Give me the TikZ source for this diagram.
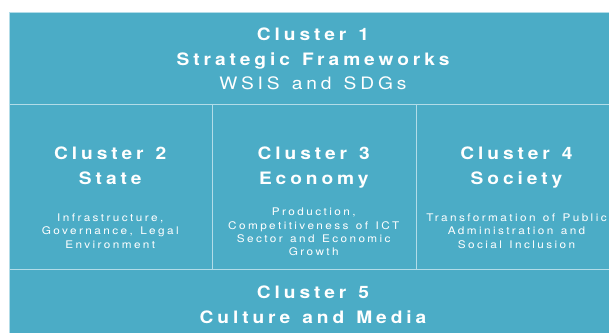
\documentclass[tikz,border=0pt]{standalone}
\usepackage{fontspec}
\setmainfont{TeX Gyre Heros}[LetterSpace=23, FakeStretch=1.12, WordSpace=1.3]
\definecolor{cellblue}{RGB}{75,172,198}
\definecolor{cellline}{RGB}{178,220,232}
\begin{document}
\begin{tikzpicture}[x=1pt,y=-1pt,
  cell/.style={draw=cellline, line width=1.2pt, fill=cellblue, inner sep=0pt, anchor=north west},
  head/.style={text=white, font=\fontsize{17.1}{20}\selectfont\bfseries, anchor=base, inner sep=0pt},
  subhead/.style={text=white, font=\fontsize{17.1}{20}\selectfont, anchor=base, inner sep=0pt},
  small/.style={text=white, font=\fontsize{10.5}{13}\selectfont, anchor=base, inner sep=0pt}]
\useasboundingbox (0,0) rectangle (609,332);
\clip (0,0) rectangle (609,332);
\fill[white] (0,0) rectangle (609,332);
% cells
\node[cell, minimum width=608pt, minimum height=91.5pt] (c1) at (9,12) {};
\node[cell, minimum width=202.5pt, minimum height=165pt] (c2) at (9,103.5) {};
\node[cell, minimum width=204.5pt, minimum height=165pt] (c3) at (211.5,103.5) {};
\node[cell, minimum width=201pt, minimum height=165pt] (c4) at (416,103.5) {};
\node[cell, minimum width=608pt, minimum height=80pt] (c5) at (9,268.5) {};
% cluster 1
\node[head] (t1a) at (313,40.7) {Cluster 1};
\node[head] (t1b) at (313,65.7) {Strategic Frameworks};
\node[subhead] (t1c) at (313,89.3) {WSIS and SDGs};
% cluster 2
\node[head] (t2a) at (110.25,159.3) {Cluster 2};
\node[head] (t2b) at (110.25,184) {State};
\node[small] (t2c) at (110.25,221.5) {Infrastructure,};
\node[small] (t2d) at (110.25,234.8) {Governance, Legal};
\node[small] (t2e) at (110.25,248) {Environment};
% cluster 3
\node[head] (t3a) at (313.75,159.3) {Cluster 3};
\node[head] (t3b) at (313.75,184) {Economy};
\node[small] (t3c) at (313.75,215.5) {Production,};
\node[small] (t3d) at (313.75,229) {Competitiveness of ICT};
\node[small] (t3e) at (313.75,242.2) {Sector and Economic};
\node[small] (t3f) at (313.75,255.5) {Growth};
% cluster 4
\node[head] (t4a) at (516.5,159.3) {Cluster 4};
\node[head] (t4b) at (516.5,184) {Society};
\node[small] (t4c) at (516.5,221.5) {Transformation of Public};
\node[small] (t4d) at (516.5,234.8) {Administration and};
\node[small] (t4e) at (516.5,248) {Social Inclusion};
% cluster 5
\node[head] (t5a) at (313,298.7) {Cluster 5};
\node[head] (t5b) at (313,323.7) {Culture and Media};
\end{tikzpicture}
\end{document}
